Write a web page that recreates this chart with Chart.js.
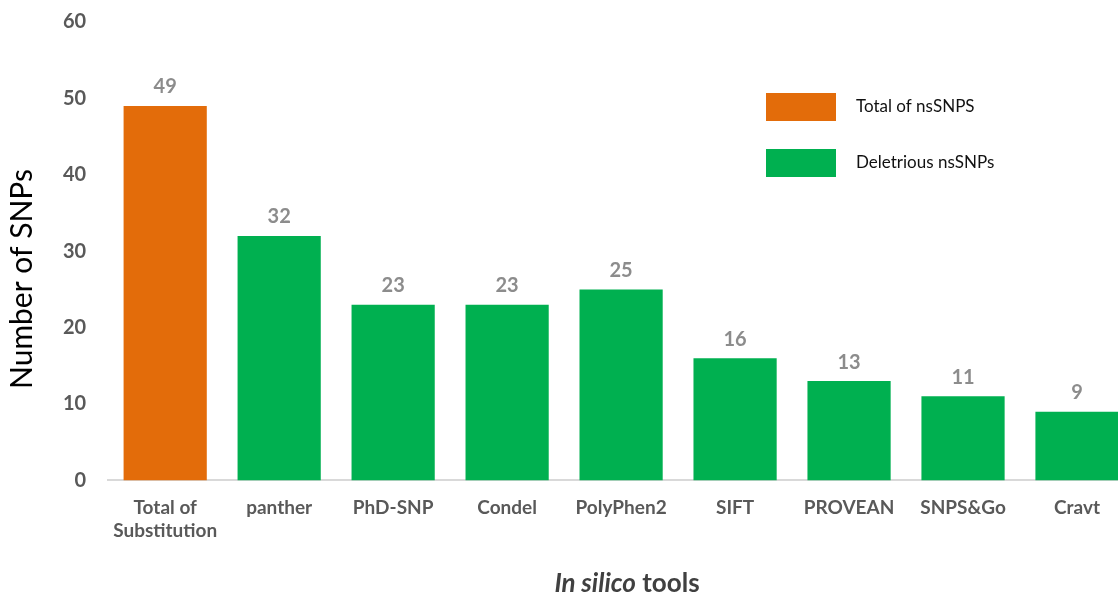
<!DOCTYPE html>
<html>
<head>
<meta charset="utf-8">
<script src="https://cdn.jsdelivr.net/npm/chart.js@4.4.1/dist/chart.umd.min.js"></script>
<style>
  html, body { margin: 0; padding: 0; background: #fff; overflow: hidden; }
  #wrap { position: relative; width: 1134px; height: 596px; }
</style>
</head>
<body>
<div id="wrap"><canvas id="chartSnps"></canvas></div>
<script>
const tools = [['Total of', 'Substitution'], 'panther', 'PhD-SNP', 'Condel', 'PolyPhen2', 'SIFT', 'PROVEAN', 'SNPS&Go', 'Cravt'];
const totalNsSnps = [49, null, null, null, null, null, null, null, null];
const deleteriousNsSnps = [null, 32, 23, 23, 25, 16, 13, 11, 9];
const legendNames = ['Total of nsSNPS', 'Deletrious nsSNPs'];
const yTicks = [0, 10, 20, 30, 40, 50, 60];
const xTitleParts = [['In silico', 'italic'], [' tools', 'normal']];
const yTitle = 'Number of SNPs';

const ORANGE = '#E36C0A';
const GREEN = '#00B050';

// numbers above the bars
const valueLabels = {
    id: 'valueLabels',
    afterDatasetsDraw(chart) {
        const ctx = chart.ctx;
        ctx.save();
        ctx.font = 'bold 20px Lato';
        ctx.fillStyle = '#8C8C8C';
        ctx.textAlign = 'center';
        ctx.textBaseline = 'bottom';
        chart.data.datasets.forEach((ds, i) => {
            chart.getDatasetMeta(i).data.forEach((bar, j) => {
                if (ds.data[j] == null) return;
                ctx.fillText(ds.data[j], bar.x, bar.y - 9);
            });
        });
        ctx.restore();
    }
};

// legend boxes in the top right corner + both axis titles
const extras = {
    id: 'extras',
    afterDraw(chart) {
        const ctx = chart.ctx;
        ctx.save();
        ctx.font = '17px Lato';
        ctx.textBaseline = 'middle';
        chart.data.datasets.forEach((ds, i) => {
            const y = 93 + i * 56;
            ctx.fillStyle = ds.backgroundColor;
            ctx.fillRect(766, y, 70, 28);
            ctx.fillStyle = '#111';
            ctx.fillText(ds.label, 856, y + 14);
        });

        // x title: "In silico" in italics
        ctx.fillStyle = '#404040';
        let total = 0;
        xTitleParts.forEach(p => { ctx.font = p[1] + ' bold 26px Lato'; total += ctx.measureText(p[0]).width; });
        let x = 627 - total / 2;
        xTitleParts.forEach(p => {
            ctx.font = p[1] + ' bold 26px Lato';
            ctx.fillText(p[0], x, 584);
            x += ctx.measureText(p[0]).width;
        });

        // y title
        ctx.translate(22, 279);
        ctx.rotate(-Math.PI / 2);
        ctx.font = '30px Lato';
        ctx.fillStyle = '#000';
        ctx.textAlign = 'center';
        ctx.fillText(yTitle, 0, 0);
        ctx.restore();
    }
};

new Chart(document.getElementById('chartSnps'), {
    type: 'bar',
    data: {
        labels: tools,
        datasets: [
            { label: legendNames[0], data: totalNsSnps, backgroundColor: ORANGE },
            { label: legendNames[1], data: deleteriousNsSnps, backgroundColor: GREEN }
        ]
    },
    plugins: [valueLabels, extras],
    options: {
        responsive: true, maintainAspectRatio: false, animation: false,
        layout: { padding: { top: 22, right: 0, left: 0, bottom: 0 } },
        datasets: { bar: { categoryPercentage: 1, barPercentage: 0.73 } },
        plugins: { legend: { display: false }, tooltip: { enabled: false } },
        scales: {
            x: {
                stacked: true,
                grid: { display: false, drawTicks: false },
                border: { display: true, color: '#D9D9D9', width: 2 },
                ticks: { color: '#595959', font: { family: 'Lato', size: 19, weight: 'bold' }, padding: 16, maxRotation: 0 },
                title: {
                    display: true, text: 'In silico tools', color: 'rgba(0,0,0,0)',
                    font: { family: 'Lato', size: 23, weight: 'bold', lineHeight: 1 },
                    padding: { top: 15, bottom: 0 }
                }
            },
            y: {
                stacked: true,
                min: 0, max: 60,
                afterBuildTicks(scale) { scale.ticks = yTicks.map(v => ({ value: v })); },
                afterFit(scale) { scale.paddingTop = 0; },
                grid: { display: false, drawTicks: false },
                border: { display: false },
                ticks: { color: '#595959', font: { family: 'Lato', size: 20, weight: 'bold' }, padding: 22 },
                title: {
                    display: true, text: yTitle, color: 'rgba(0,0,0,0)',
                    font: { family: 'Lato', size: 25, lineHeight: 1 },
                    padding: { top: 8, bottom: 8 }
                }
            }
        }
    }
});
</script>
</body>
</html>
